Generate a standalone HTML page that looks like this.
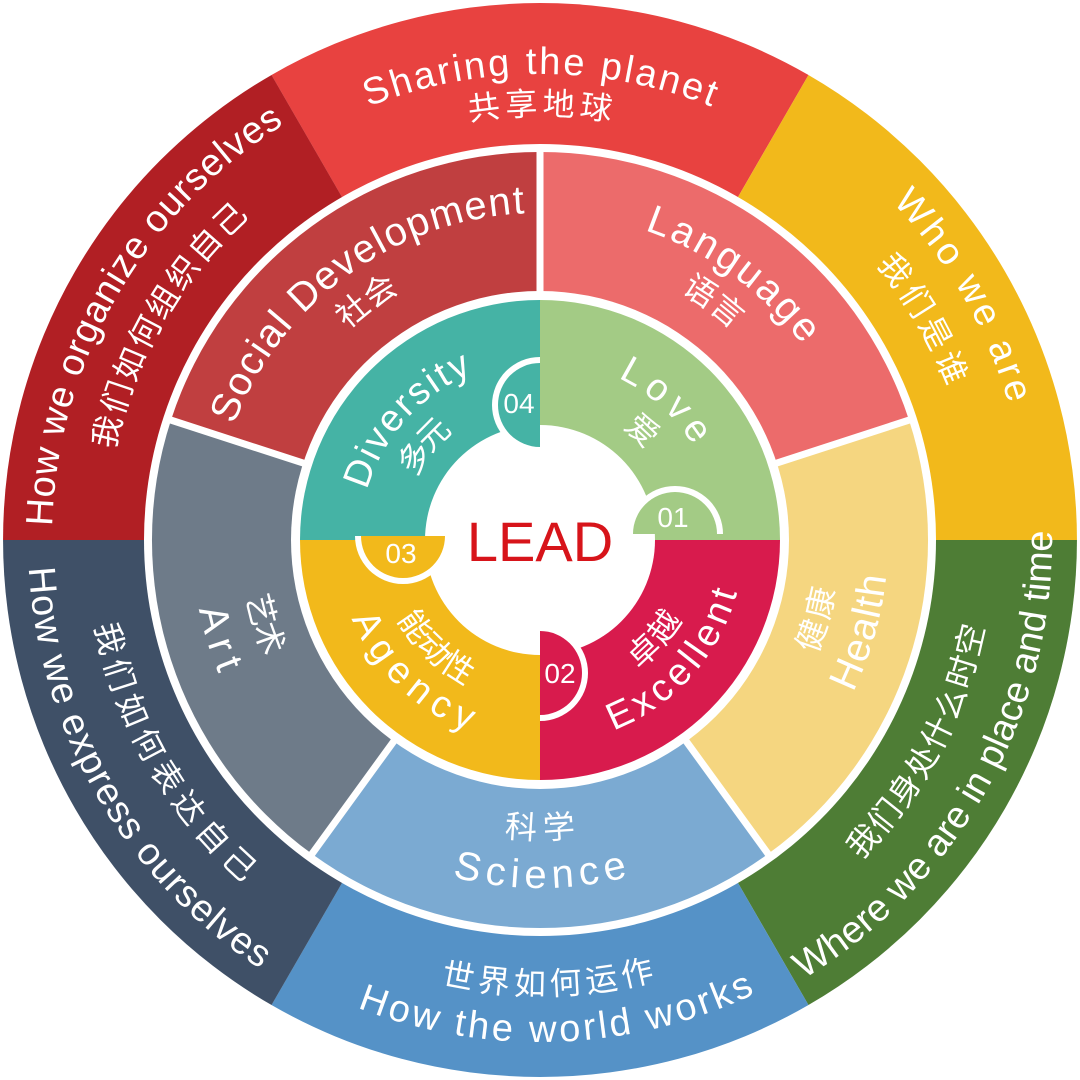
<!DOCTYPE html>
<html><head><meta charset="utf-8"><style>
html,body{margin:0;padding:0;background:#fff;}
svg{display:block;}
text{font-family:"Liberation Sans","Noto Sans CJK SC",sans-serif;fill:#fff;}
.en{font-size:38px;}
.zh{font-size:32px;}
.men{font-size:40px;}
.mzh{font-size:32px;}
.ien{font-size:38px;}
.izh{font-size:32px;}
</style></head><body>
<svg width="1080" height="1080" viewBox="0 0 1080 1080" xmlns="http://www.w3.org/2000/svg">
<defs>
<path id="cw478" d="M62 540 A478 478 0 0 1 1018 540"/>
<path id="cw436" d="M104 540 A436 436 0 0 1 976 540"/>
<path id="cw500" d="M40 540 A500 500 0 0 1 1040 540"/>
<path id="cw446" d="M94 540 A446 446 0 0 1 986 540"/>
<path id="cw340" d="M200 540 A340 340 0 0 1 880 540"/>
<path id="cw296" d="M244 540 A296 296 0 0 1 836 540"/>
<path id="cw192" d="M348 540 A192 192 0 0 1 732 540"/>
<path id="cw150" d="M390 540 A150 150 0 0 1 690 540"/>
<path id="ccw490" d="M50 540 A490 490 0 0 0 1030 540"/>
<path id="ccw444" d="M96 540 A444 444 0 0 0 984 540"/>
<path id="ccw500" d="M40 540 A500 500 0 0 0 1040 540"/>
<path id="ccw442" d="M98 540 A442 442 0 0 0 982 540"/>
<path id="ccw335" d="M205 540 A335 335 0 0 0 875 540"/>
<path id="ccw288" d="M252 540 A288 288 0 0 0 828 540"/>
<path id="ccw192" d="M348 540 A192 192 0 0 0 732 540"/>
<path id="ccw152" d="M388 540 A152 152 0 0 0 692 540"/>
</defs>

<g>
<path d="M540 540 L271.5 75 A537 537 0 0 1 808.5 75 Z" fill="#e84240"/>
<path d="M540 540 L271.5 75 A537 537 0 0 1 808.5 75 Z" fill="#f2b91b" transform="rotate(60 540 540)"/>
<path d="M540 540 L271.5 75 A537 537 0 0 1 808.5 75 Z" fill="#4e7d35" transform="rotate(120 540 540)"/>
<path d="M540 540 L271.5 75 A537 537 0 0 1 808.5 75 Z" fill="#5592c7" transform="rotate(180 540 540)"/>
<path d="M540 540 L271.5 75 A537 537 0 0 1 808.5 75 Z" fill="#3f5067" transform="rotate(240 540 540)"/>
<path d="M540 540 L271.5 75 A537 537 0 0 1 808.5 75 Z" fill="#b11f24" transform="rotate(300 540 540)"/>
</g>
<circle cx="540" cy="540" r="396" fill="#fff"/>

<g>
<path d="M540 540 L311.9 226.1 A388 388 0 0 1 768.1 226.1 Z" fill="#c03f40" transform="rotate(-36 540 540)"/>
<path d="M540 540 L311.9 226.1 A388 388 0 0 1 768.1 226.1 Z" fill="#ec6b6b" transform="rotate(36 540 540)"/>
<path d="M540 540 L311.9 226.1 A388 388 0 0 1 768.1 226.1 Z" fill="#f5d680" transform="rotate(108 540 540)"/>
<path d="M540 540 L311.9 226.1 A388 388 0 0 1 768.1 226.1 Z" fill="#7baad2" transform="rotate(180 540 540)"/>
<path d="M540 540 L311.9 226.1 A388 388 0 0 1 768.1 226.1 Z" fill="#6e7b89" transform="rotate(252 540 540)"/>
</g>
<g stroke="#fff" stroke-width="7">
<line x1="540" y1="300" x2="540" y2="148"/>
<line x1="540" y1="300" x2="540" y2="148" transform="rotate(72 540 540)"/>
<line x1="540" y1="300" x2="540" y2="148" transform="rotate(144 540 540)"/>
<line x1="540" y1="300" x2="540" y2="148" transform="rotate(216 540 540)"/>
<line x1="540" y1="300" x2="540" y2="148" transform="rotate(288 540 540)"/>
</g>
<circle cx="540" cy="540" r="249" fill="#fff"/>

<path d="M540 540 L540 300 A240 240 0 0 1 780 540 Z" fill="#a3cb85"/>
<path d="M540 540 L780 540 A240 240 0 0 1 540 780 Z" fill="#d81b4d"/>
<path d="M540 540 L540 780 A240 240 0 0 1 300 540 Z" fill="#f2b91b"/>
<path d="M540 540 L300 540 A240 240 0 0 1 540 300 Z" fill="#45b3a5"/>
<circle cx="540" cy="540" r="115" fill="#fff"/>

<path d="M540 357 A48 48 0 0 0 540 453 Z" fill="#fff"/>
<path d="M540 363 A42 42 0 0 0 540 447 Z" fill="#45b3a5"/>
<path d="M627 534 A48 48 0 0 1 723 534 Z" fill="#fff"/>
<path d="M633 534 A42 42 0 0 1 717 534 Z" fill="#a3cb85"/>
<path d="M540 625 A48 48 0 0 1 540 721 Z" fill="#fff"/>
<path d="M540 631 A42 42 0 0 1 540 715 Z" fill="#d81b4d"/>
<path d="M355 536 A48 48 0 0 0 451 536 Z" fill="#fff"/>
<path d="M361 536 A42 42 0 0 0 445 536 Z" fill="#f2b91b"/>
<text x="519" y="413" font-size="28" text-anchor="middle">04</text>
<text x="673" y="527" font-size="28" text-anchor="middle">01</text>
<text x="560" y="683" font-size="28" text-anchor="middle">02</text>
<text x="401" y="563" font-size="28" text-anchor="middle">03</text>

<text x="540" y="561" font-size="56" text-anchor="middle" style="fill:#d7141a">LEAD</text>

<g dominant-baseline="central" text-anchor="middle">
<text class="en"><textPath href="#cw478" startOffset="50%" textLength="360" lengthAdjust="spacing">Sharing the planet</textPath></text>
<text class="zh"><textPath href="#cw436" startOffset="50%" textLength="145" lengthAdjust="spacing">共享地球</textPath></text>
<text class="en" transform="rotate(60 540 540)"><textPath href="#cw500" startOffset="50%" textLength="240" lengthAdjust="spacing">Who we are</textPath></text>
<text class="zh" transform="rotate(60 540 540)"><textPath href="#cw446" startOffset="50%" textLength="145" lengthAdjust="spacing">我们是谁</textPath></text>
<text class="en" transform="rotate(300 540 540)"><textPath href="#cw500" startOffset="50%" textLength="495" lengthAdjust="spacing">How we organize ourselves</textPath></text>
<text class="zh" transform="rotate(300 540 540)"><textPath href="#cw446" startOffset="50%" textLength="280" lengthAdjust="spacing">我们如何组织自己</textPath></text>
<text class="en" transform="rotate(-2 540 540)"><textPath href="#ccw490" startOffset="50%" textLength="400" lengthAdjust="spacing">How the world works</textPath></text>
<text class="zh" transform="rotate(-1 540 540)"><textPath href="#ccw444" startOffset="50%" textLength="212" lengthAdjust="spacing">世界如何运作</textPath></text>
<text class="en" transform="rotate(-61 540 540)"><textPath href="#ccw500" startOffset="50%" textLength="525" lengthAdjust="spacing">Where we are in place and time</textPath></text>
<text class="zh" transform="rotate(-62 540 540)"><textPath href="#ccw442" startOffset="50%" textLength="262" lengthAdjust="spacing">我们身处什么时空</textPath></text>
<text class="en" transform="rotate(60 540 540)"><textPath href="#ccw500" startOffset="50%" textLength="470" lengthAdjust="spacing">How we express ourselves</textPath></text>
<text class="zh" transform="rotate(60 540 540)"><textPath href="#ccw442" startOffset="50%" textLength="296" lengthAdjust="spacing">我们如何表达自己</textPath></text>

<text class="men" transform="rotate(-36 540 540)"><textPath href="#cw340" startOffset="50%" textLength="395" lengthAdjust="spacing">Social Development</textPath></text>
<text class="mzh" transform="rotate(-36 540 540)"><textPath href="#cw296" startOffset="50%" textLength="66" lengthAdjust="spacing">社会</textPath></text>
<text class="men" transform="rotate(36 540 540)"><textPath href="#cw340" startOffset="50%" textLength="205" lengthAdjust="spacing">Language</textPath></text>
<text class="mzh" transform="rotate(36 540 540)"><textPath href="#cw296" startOffset="50%" textLength="66" lengthAdjust="spacing">语言</textPath></text>
<text class="men" transform="rotate(-74 540 540)"><textPath href="#ccw335" startOffset="50%" textLength="118" lengthAdjust="spacing">Health</textPath></text>
<text class="mzh" transform="rotate(-74 540 540)"><textPath href="#ccw288" startOffset="50%" textLength="66" lengthAdjust="spacing">健康</textPath></text>
<text class="men"><textPath href="#ccw335" startOffset="50%" textLength="172" lengthAdjust="spacing">Science</textPath></text>
<text class="mzh"><textPath href="#ccw288" startOffset="50%" textLength="70" lengthAdjust="spacing">科学</textPath></text>
<text class="men" transform="rotate(73 540 540)"><textPath href="#ccw335" startOffset="50%" textLength="66" lengthAdjust="spacing">Art</textPath></text>
<text class="mzh" transform="rotate(73 540 540)"><textPath href="#ccw288" startOffset="50%" textLength="62" lengthAdjust="spacing">艺术</textPath></text>

<text class="ien" transform="rotate(-48 540 540)"><textPath href="#cw192" startOffset="50%" textLength="172" lengthAdjust="spacing">Diversity</textPath></text>
<text class="izh" transform="rotate(-51 540 540)"><textPath href="#cw150" startOffset="50%" textLength="62" lengthAdjust="spacing">多元</textPath></text>
<text class="ien" transform="rotate(42 540 540)"><textPath href="#cw192" startOffset="50%" textLength="108" lengthAdjust="spacing">Love</textPath></text>
<text class="izh" transform="rotate(43 540 540)"><textPath href="#cw150" startOffset="50%">爱</textPath></text>
<text class="ien" transform="rotate(-48 540 540)"><textPath href="#ccw192" startOffset="50%" textLength="182" lengthAdjust="spacing">Excellent</textPath></text>
<text class="izh" transform="rotate(-49 540 540)"><textPath href="#ccw152" startOffset="50%" textLength="64" lengthAdjust="spacing">卓越</textPath></text>
<text class="ien" transform="rotate(44 540 540)"><textPath href="#ccw192" startOffset="50%" textLength="158" lengthAdjust="spacing">Agency</textPath></text>
<text class="izh" transform="rotate(44 540 540)"><textPath href="#ccw152" startOffset="50%" textLength="92" lengthAdjust="spacing">能动性</textPath></text>
</g>
</svg>
</body></html>
